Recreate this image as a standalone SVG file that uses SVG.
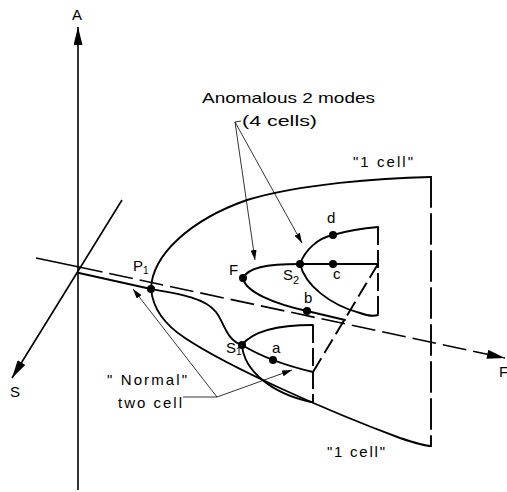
<svg xmlns="http://www.w3.org/2000/svg" width="507" height="492" viewBox="0 0 507 492">
<style>
.c{fill:none;stroke:#000;stroke-width:1.9;stroke-linecap:round}
.ax{fill:none;stroke:#000;stroke-width:1.6}
.ld{fill:none;stroke:#000;stroke-width:0.8}
.d1{stroke-dasharray:24 7}
.d2{stroke-dasharray:30 7}
.d3{stroke-dasharray:18 5;stroke-linecap:butt}
.d4{stroke-dasharray:16 6;stroke-linecap:butt}
.t{font-family:"Liberation Sans",Arial,sans-serif;font-size:15px;fill:#000}
.dot{fill:#000}
</style>
<defs>
<marker id="big" viewBox="0 0 20 10" markerWidth="20" markerHeight="9" refX="20" refY="5" orient="auto" markerUnits="userSpaceOnUse"><path d="M0,0 L20,5 L0,10 z" fill="#000"/></marker>
<marker id="sm" viewBox="0 0 10 6" markerWidth="10" markerHeight="6" refX="10" refY="3" orient="auto" markerUnits="userSpaceOnUse"><path d="M0,0 L10,3 L0,6 z" fill="#000"/></marker>
</defs>
<g id="axes">
<line id="axis-A" class="ax" x1="78" y1="490" x2="78" y2="27" marker-end="url(#big)"/>
<line id="axis-S" class="ax" x1="122" y1="200" x2="12" y2="378" marker-end="url(#big)"/>
<line class="ax" x1="36" y1="258" x2="79" y2="267"/>
<line id="axis-F" class="ax d1" x1="79" y1="267" x2="505" y2="358" marker-end="url(#big)"/>
</g>
<g id="connectors">
<path id="outer-upper" class="c" d="M431,177 C380,178 300,184 247,200 C190,220 152,255 151,289"/>
<path id="outer-lower" class="c" d="M151,289 C153,310 165,325 185,338 C230,368 330,412 400,438 C415,443 425,446 431,446"/>
<line id="outer-edge" class="c d2" x1="431" y1="177" x2="431" y2="446"/>
<path id="base-line" class="c" d="M79,273 L151,289 C180,294 205,298 216,312 C224,322 226,340 242,345"/>
<path id="F-upper" class="c" d="M243,278 C248,268 265,264 300,264"/>
<path id="F-lower" class="c" d="M243,278 C245,292 275,304 307,311 L345,320"/>
<path id="S2-upper" class="c" d="M300,264 C305,250 318,238 333,235 C350,230 365,228 378,227"/>
<line id="S2-c" class="c" x1="300" y1="264" x2="378" y2="264"/>
<path id="S2-lower" class="c" d="M300,264 C305,285 330,305 360,313 C368,316 375,316 378,315"/>
<line id="F-edge" class="c d3" x1="378" y1="227" x2="378" y2="315"/>
<line id="diag" class="c d4" x1="378" y1="264" x2="313" y2="372"/>
<path id="S1-upper" class="c" d="M242,345 C252,332 275,325 313,325"/>
<path id="S1-mid" class="c" d="M242,345 Q270,362 313,372"/>
<path id="S1-lower" class="c" d="M242,345 C244,370 270,393 311,402 L313,402"/>
<line id="S1-edge" class="c d3" x1="313" y1="325" x2="313" y2="402"/>
<line class="ld" x1="235" y1="122" x2="255" y2="260" marker-end="url(#sm)"/>
<line class="ld" x1="235" y1="122" x2="302" y2="243" marker-end="url(#sm)"/>
<line class="ld" x1="235" y1="122" x2="241" y2="121"/>
<polyline class="ld" points="183,397 217,397"/>
<line class="ld" x1="217" y1="397" x2="133" y2="289" marker-end="url(#sm)"/>
<line class="ld" x1="217" y1="397" x2="292" y2="370" marker-end="url(#sm)"/>
</g>
<g id="node-P1"><circle class="dot" cx="151" cy="289" r="4"/><text class="t" x="133" y="271">P<tspan font-size="10" dy="3">1</tspan></text></g>
<g id="node-F"><circle class="dot" cx="243" cy="278" r="4"/><text class="t" x="229" y="275">F</text></g>
<g id="node-S2"><circle class="dot" cx="300" cy="264" r="4"/><text class="t" x="283" y="280">S<tspan font-size="11" dy="4">2</tspan></text></g>
<g id="node-c"><circle class="dot" cx="333" cy="264" r="4"/><text class="t" x="333" y="279">c</text></g>
<g id="node-d"><circle class="dot" cx="333" cy="235" r="4"/><text class="t" x="327" y="223">d</text></g>
<g id="node-b"><circle class="dot" cx="307" cy="311" r="4"/><text class="t" x="304" y="303">b</text></g>
<g id="node-S1"><circle class="dot" cx="242" cy="345" r="4"/><text class="t" x="226" y="353">S<tspan font-size="10" dy="2">1</tspan></text></g>
<g id="node-a"><circle class="dot" cx="273" cy="360" r="4"/><text class="t" x="272" y="353">a</text></g>
<g id="labels">
<text class="t" x="72" y="20">A</text>
<text class="t" x="10" y="397">S</text>
<text class="t" x="499" y="377">F</text>
<text class="t" x="202" y="103" textLength="173" lengthAdjust="spacingAndGlyphs">Anomalous 2 modes</text>
<text class="t" x="242" y="126" textLength="75" lengthAdjust="spacingAndGlyphs">(4 cells)</text>
<text class="t" x="353" y="167" textLength="60" lengthAdjust="spacing">"1 cell"</text>
<text class="t" x="327" y="457" textLength="58" lengthAdjust="spacing">"1 cell"</text>
<text class="t" x="107" y="385" textLength="80" lengthAdjust="spacing">" Normal"</text>
<text class="t" x="118" y="408" textLength="64" lengthAdjust="spacing">two cell</text>
</g>
</svg>
